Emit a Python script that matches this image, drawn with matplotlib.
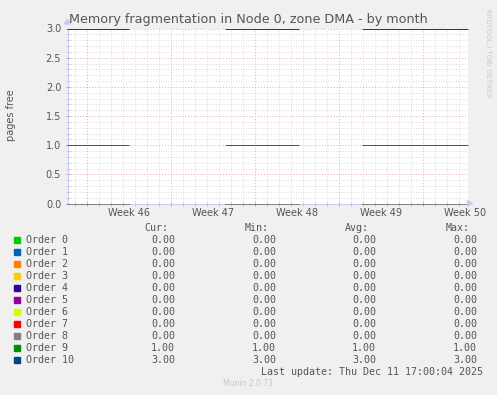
import numpy as np
import matplotlib
matplotlib.use("Agg")
import matplotlib.pyplot as plt
from matplotlib.ticker import MultipleLocator
import matplotlib.transforms as mtrans

W, H = 497, 395

# data (x in days relative to last update, Thu Dec 11 17:00)
orders = ["Order 0", "Order 1", "Order 2", "Order 3", "Order 4", "Order 5",
          "Order 6", "Order 7", "Order 8", "Order 9", "Order 10"]
colors = ["#00CC00", "#0066B3", "#FF8000", "#FFCC00", "#330099", "#990099",
          "#CCFF00", "#FF0000", "#808080", "#008F00", "#00487D"]
values = [0, 0, 0, 0, 0, 0, 0, 0, 0, 1, 3]
cur = [0.00, 0.00, 0.00, 0.00, 0.00, 0.00, 0.00, 0.00, 0.00, 1.00, 3.00]
vmin = [0.00, 0.00, 0.00, 0.00, 0.00, 0.00, 0.00, 0.00, 0.00, 1.00, 3.00]
vavg = [0.00, 0.00, 0.00, 0.00, 0.00, 0.00, 0.00, 0.00, 0.00, 1.00, 3.00]
vmax = [0.00, 0.00, 0.00, 0.00, 0.00, 0.00, 0.00, 0.00, 0.00, 1.00, 3.00]
seg_start = [-33.33, -20.17, -8.83]
seg_end = [-28.17, -14.08, 0.0]
week_starts = [-31.71, -24.71, -17.71, -10.71, -3.71]
week_labels = ["Week 46", "Week 47", "Week 48", "Week 49", "Week 50"]


def fx(x):
    return x / W


def fy(y):
    return 1 - y / H


fig = plt.figure(figsize=(W / 100, H / 100), dpi=100, facecolor="#F0F0F0")
# half-pixel offsets so 1px lines land on pixel centres
ax = fig.add_axes([fx(67.5), fy(203.5), 400 / W, 175 / H])
ax.set_facecolor("white")

# grid
ax.set_xticks(week_starts)
ax.set_xticks(np.arange(-32.71, 0, 1), minor=True)
ax.yaxis.set_major_locator(MultipleLocator(0.5))
ax.yaxis.set_minor_locator(MultipleLocator(0.1))
ax.set_xlim(-33.33, 0)
ax.set_ylim(0, 3)
ax.grid(which="minor", color="#d0d0d0", linestyle=(0, (1, 2)), linewidth=0.6)
ax.grid(which="major", color="#e6a8a8", linestyle=(0, (1, 2)), linewidth=0.7)
ax.set_axisbelow(True)
ax.set_xticklabels([])
ax.tick_params(axis="x", which="major", length=3, direction="inout", color="#e09090", width=0.7)
ax.tick_params(axis="x", which="minor", length=3, direction="inout", color="#c0c0c0", width=0.6)
ax.tick_params(axis="y", which="major", length=3, direction="inout", color="#e09090", width=0.7,
               labelsize=7, labelcolor="#555555", pad=3)
ax.tick_params(axis="y", which="minor", length=3, direction="inout", color="#c0c0c0", width=0.6)
ax.yaxis.set_major_formatter(matplotlib.ticker.FormatStrFormatter("%.1f"))

for s in ["top", "right"]:
    ax.spines[s].set_visible(False)
for s in ["left", "bottom"]:
    ax.spines[s].set_color("#c8ccf0")
    ax.spines[s].set_linewidth(0.72)
    ax.spines[s].set_zorder(1.5)

# week labels in the middle of each week
trans = mtrans.blended_transform_factory(ax.transData, fig.transFigure)
for ws, lab in zip(week_starts, week_labels):
    ax.text(ws + 3.5, fy(213), lab, transform=trans, ha="center", va="center",
            fontsize=7, color="#555555")

# data lines
for v, c in zip(values, colors):
    for s, e in zip(seg_start, seg_end):
        ax.plot([s, e], [v, v], color=c, linewidth=0.72, solid_capstyle="butt",
                clip_on=False, zorder=2)

# axis arrows
fig.patches.append(plt.Polygon([[fx(64.5), fy(24)], [fx(70.5), fy(24)], [fx(67.5), fy(19)]],
                               closed=True, transform=fig.transFigure, color="#c8ccf0"))
fig.patches.append(plt.Polygon([[fx(467.5), fy(200.5)], [fx(467.5), fy(206.5)], [fx(472.5), fy(203.5)]],
                               closed=True, transform=fig.transFigure, color="#c8ccf0"))

# texts
fig.text(fx(248), fy(19), "Memory fragmentation in Node 0, zone DMA - by month",
         ha="center", va="center", fontsize=9.2, color="#555555")
fig.text(fx(11), fy(115), "pages free", rotation=90, ha="center", va="center",
         fontsize=7, color="#555555")
fig.text(fx(488), fy(53), "RRDTOOL / TOBI OETIKER", rotation=270, ha="center", va="center",
         fontsize=5, color="#c8c8c8")

mono = "DejaVu Sans Mono"
col_right = [175, 276, 376, 477]
headers = ["Cur:", "Min:", "Avg:", "Max:"]
for xr, h in zip(col_right, headers):
    fig.text(fx(xr - 7), fy(228), h, ha="right", va="center", family=mono,
             fontsize=7.2, color="#555555")

for i, (name, c) in enumerate(zip(orders, colors)):
    y = 240 + 12 * i
    fig.patches.append(plt.Rectangle((fx(14), fy(y + 3)), 6 / W, 6 / H,
                                     transform=fig.transFigure, color=c))
    fig.text(fx(26), fy(y), name, ha="left", va="center", family=mono,
             fontsize=7.2, color="#555555")
    for xr, col in zip(col_right, [cur, vmin, vavg, vmax]):
        fig.text(fx(xr), fy(y), "%.2f" % col[i], ha="right", va="center", family=mono,
                 fontsize=7.2, color="#555555")

fig.text(fx(483), fy(372), "Last update: Thu Dec 11 17:00:04 2025", ha="right", va="center",
         family=mono, fontsize=7.2, color="#555555")
fig.text(fx(248), fy(384), "Munin 2.0.73", ha="center", va="center",
         fontsize=5.5, color="#c8c8c8")

fig.savefig("out.png", dpi=100, facecolor=fig.get_facecolor())
